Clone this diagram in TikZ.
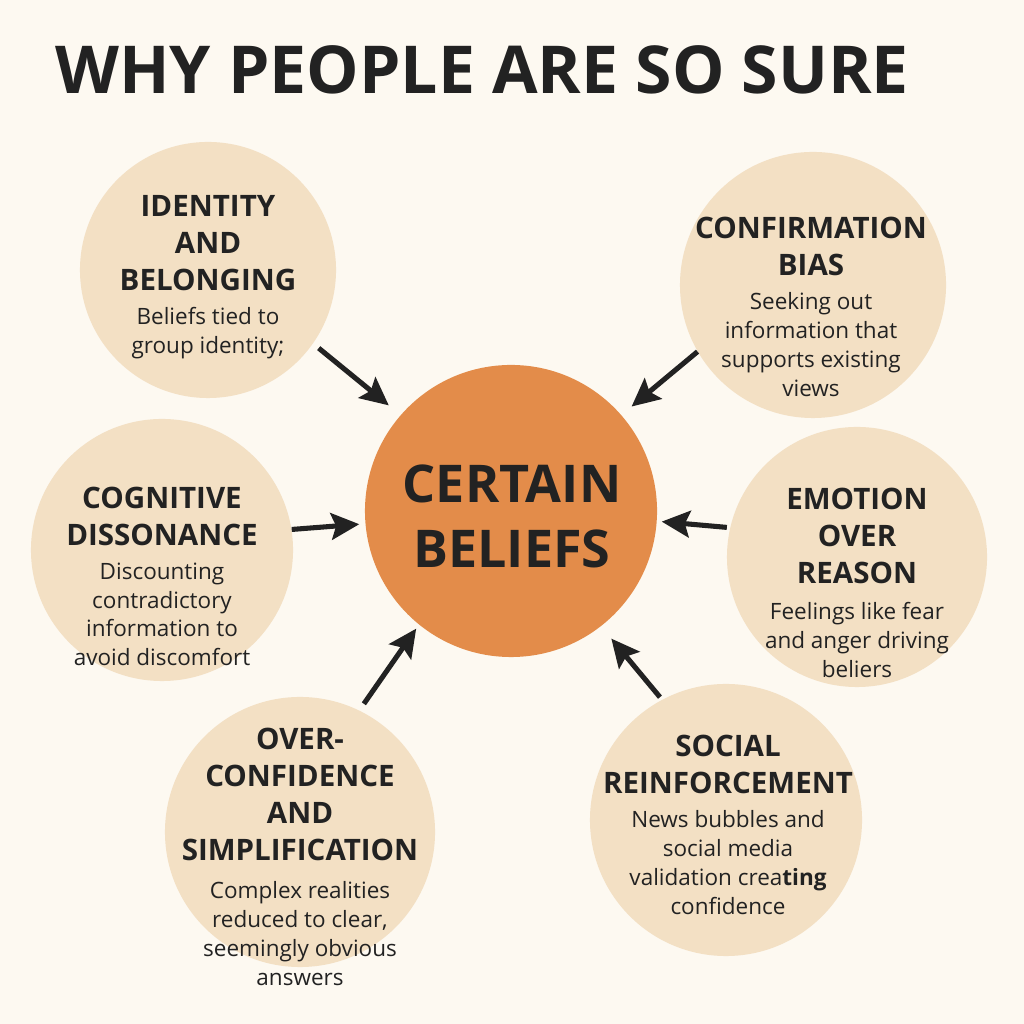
\documentclass[tikz,border=0pt]{standalone}
\usepackage{fontspec}
\setmainfont{Open Sans}
\usetikzlibrary{arrows.meta,positioning}
\definecolor{paper}{HTML}{FDF9F1}
\definecolor{beige}{HTML}{F3E0C4}
\definecolor{coreorange}{HTML}{E38C4A}
\definecolor{ink}{HTML}{222222}

\begin{document}
\begin{tikzpicture}[
  x=0.025cm, y=0.025cm,
  bubble/.style={circle, fill=beige, inner sep=0pt},
  core/.style={circle, fill=coreorange, inner sep=0pt, minimum size=7.3cm},
  head/.style={anchor=north, inner sep=0pt, align=center, text=ink, font=\fontsize{21}{26.3}\selectfont\bfseries},
  body/.style={inner sep=0pt, align=center, text=ink, font=\fontsize{16}{20.6}\selectfont},
  arr/.style={-{Stealth[length=20pt,width=19pt,inset=3.5pt]}, line width=3.6pt, draw=ink}
]
\fill[paper] (0,0) rectangle (1024,1024);
\useasboundingbox (0,0) rectangle (1024,1024);

\node[anchor=north, inner sep=0pt, text=ink, font=\fontsize{47}{52}\selectfont\bfseries] (title) at (482,979) {WHY PEOPLE ARE SO SURE};

\node[core] (core) at (511,513) {};
\node[bubble, minimum size=6.4cm] (iden) at (208,754) {};
\node[bubble, minimum size=6.65cm] (conf) at (813,739) {};
\node[bubble, minimum size=6.55cm] (cogn) at (162,474) {};
\node[bubble, minimum size=6.5cm] (emot) at (857,467) {};
\node[bubble, minimum size=6.75cm] (over) at (300,192) {};
\node[bubble, minimum size=6.8cm] (soci) at (726,204) {};

\draw[arr, shorten <=0.18cm, shorten >=0.38cm] (iden.-35) -- (core.139);
\draw[arr, shorten >=0.33cm] (conf.210) -- (core.41);
\draw[arr, shorten >=0.15cm] (cogn.9) -- (core.185);
\draw[arr, shorten <=0.08cm, shorten >=0.12cm] (emot.167) -- (core.-4);
\draw[arr, shorten <=0.2cm, shorten >=0.12cm] (over.64) -- (core.231);
\draw[arr, shorten <=0.08cm, shorten >=0.4cm] (soci.118) -- (core.-52);

\node[anchor=north, inner sep=0pt, align=center, text=ink, font=\fontsize{37}{46}\selectfont\bfseries] (core-text) at (512,559) {CERTAIN\\BELIEFS};

\node[head] (iden-head) at (208,829) {IDENTITY\\AND\\BELONGING};
\node[body, below=0.4cm of iden-head] (iden-body) {Beliefs tied to\\group identity;};

\node[head] (conf-head) at (811,807) {CONFIRMATION\\BIAS};
\node[body, below=0.4cm of conf-head] (conf-body) {Seeking out\\information that\\supports existing\\views};

\node[head] (cogn-head) at (162,537) {COGNITIVE\\DISSONANCE};
\node[body, below=0.4cm of cogn-head] (cogn-body) {Discounting\\contradictory\\information to\\avoid discomfort};

\node[head] (emot-head) at (857,536) {EMOTION\\OVER\\REASON};
\node[body, below=0.44cm of emot-head] (emot-body) {Feelings like fear\\and anger driving\\beliers};

\node[head] (over-head) at (300,296) {OVER-\\CONFIDENCE\\AND\\SIMPLIFICATION};
\node[body, below=0.49cm of over-head] (over-body) {Complex realities\\reduced to clear,\\seemingly obvious\\answers};

\node[head] (soci-head) at (728,289) {SOCIAL\\REINFORCEMENT};
\node[body, below=0.4cm of soci-head] (soci-body) {News bubbles and\\social media\\validation crea\textbf{ting}\\confidence};
\end{tikzpicture}
\end{document}
